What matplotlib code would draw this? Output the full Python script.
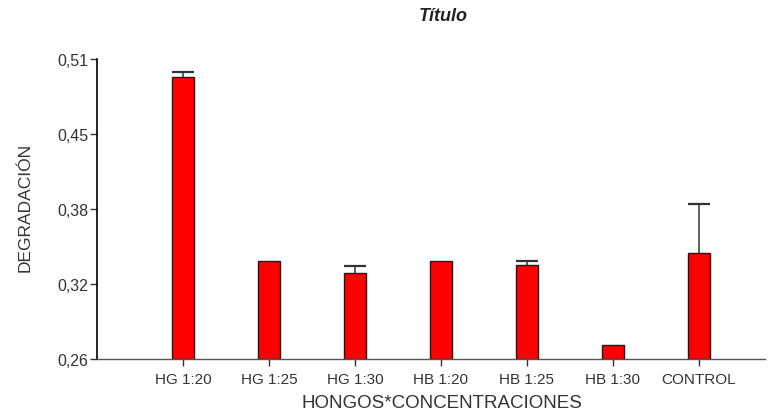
import numpy as np
import matplotlib
matplotlib.use("Agg")
import matplotlib.pyplot as plt

plt.rcParams["font.family"] = ["Liberation Sans", "DejaVu Sans"]

categorias = ["HG 1:20", "HG 1:25", "HG 1:30", "HB 1:20", "HB 1:25", "HB 1:30", "CONTROL"]
degradacion = [0.4953, 0.3414, 0.3314, 0.3414, 0.3386, 0.2717, 0.3486]
error_sup = [0.0039, 0.0, 0.0061, 0.0, 0.0028, 0.0, 0.0406]
yticks = [0.26, 0.3225, 0.385, 0.4475, 0.51]
ytick_labels = ["0,26", "0,32", "0,38", "0,45", "0,51"]

fig = plt.figure(figsize=(7.77, 4.14), dpi=100)
ax = fig.add_axes([0.1248, 0.1304, 0.86, 0.7246])

x = np.arange(len(categorias))
ancho = 0.26
base = 0.26
alturas = [v - base for v in degradacion]
ax.bar(x, alturas, bottom=base, width=ancho, color="#ff0000",
       edgecolor="#2a1515", linewidth=1.0, zorder=2)

# barras de error solo hacia arriba, sin tapa cuando el error es nulo
for xi, v, e in zip(x, degradacion, error_sup):
    if e <= 0:
        continue
    ax.vlines(xi, v, v + e, color="#444444", linewidth=1.2, zorder=1)
    ax.hlines(v + e, xi - ancho / 2, xi + ancho / 2, color="#333333",
              linewidth=1.6, zorder=3)

ax.set_xlim(-1, 6.77)
ax.set_ylim(0.26, 0.51)
ax.set_yticks(yticks)
ax.set_yticklabels(ytick_labels)
ax.set_xticks(x)
ax.set_xticklabels(categorias)

for s in ["top", "right"]:
    ax.spines[s].set_visible(False)
ax.spines["left"].set_linewidth(1.2)
ax.spines["bottom"].set_linewidth(1.0)
ax.spines["bottom"].set_color("#555555")

ax.tick_params(axis="both", colors="#333333", length=5, width=1)
ax.tick_params(axis="x", labelsize=11, pad=4)
ax.tick_params(axis="y", labelsize=11.5, pad=1)

ax.set_xlabel("HONGOS*CONCENTRACIONES", fontsize=13.5, color="#333333")
ax.set_ylabel("DEGRADACIÓN", fontsize=12.5, color="#333333")
ax.xaxis.set_label_coords(0.516, -0.115)
ax.yaxis.set_label_coords(-0.096, 0.507)

fig.text(0.571, 0.959, "Título", fontsize=13, fontweight="bold", fontstyle="italic",
         ha="center", va="center", color="#222222")

fig.savefig("out.png", dpi=100)
